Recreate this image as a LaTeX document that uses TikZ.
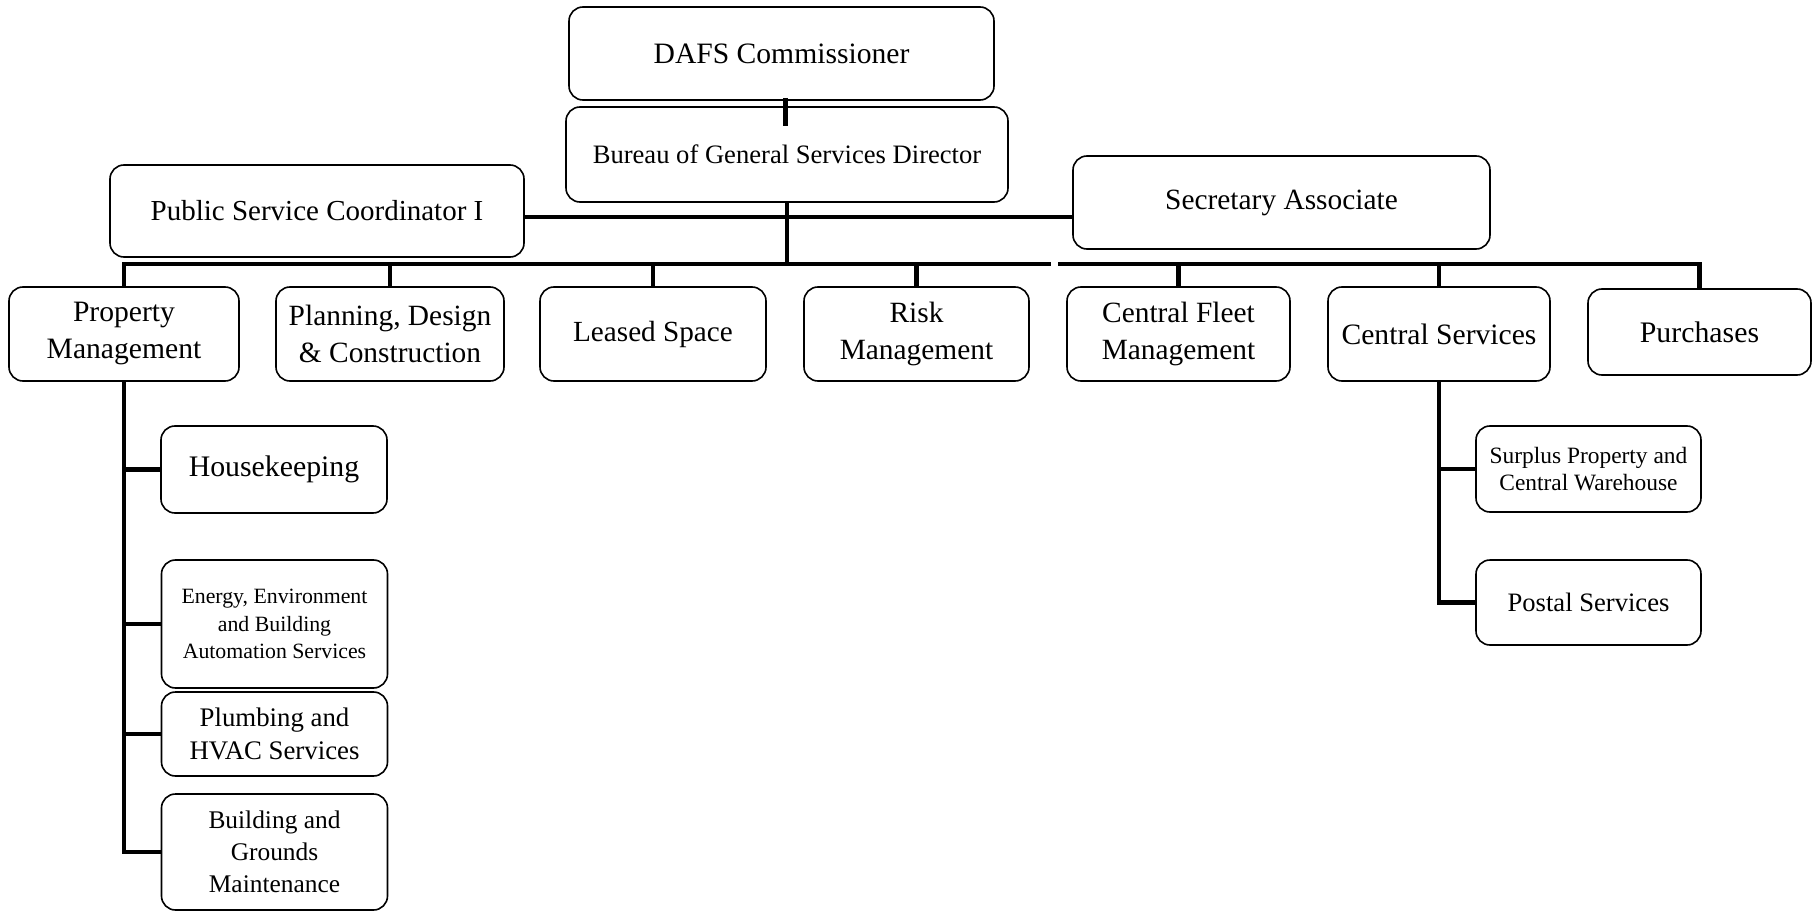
\documentclass[tikz,border=0pt]{standalone}
\usepackage{fontspec}
\setmainfont{Liberation Serif}
\newcommand{\fs}[2]{\fontsize{#1}{#2}\selectfont}
\begin{document}
\begin{tikzpicture}[x=0.5pt,y=-0.5pt,
  unit/.style={draw, line width=0.8pt, rounded corners=7pt, align=center,
    inner sep=0pt, fill=white},
  link/.style={line width=2.4pt},
]
\useasboundingbox (0,0) rectangle (1817,915);

% top of the bureau
\node[unit, minimum width=212.5pt, minimum height=46.5pt, font=\fs{14.8}{18}]
  (dafs) at (781.5,53.5) {DAFS Commissioner};
\node[unit, minimum width=221pt, minimum height=47.5pt, font=\fs{13.3}{16}]
  (bgs) at (787,154.5) {Bureau of General Services Director};
\node[unit, minimum width=207pt, minimum height=46pt, font=\fs{14.5}{18}]
  (psc) at (317,211) {Public Service Coordinator I};
\node[unit, minimum width=208.5pt, minimum height=46.5pt, font=\fs{14.7}{18}]
  (sa) at (1281.5,202.5) {Secretary Associate};

% divisions
\begin{scope}[every node/.style={unit, minimum height=47pt}]
\node[minimum width=115pt, font=\fs{14.8}{18.5}] (pm) at (124,334)
  {Property\\Management};
\node[minimum width=114pt, font=\fs{14.7}{18.5}] (pdc) at (390,334)
  {Planning, Design\\\& Construction};
\node[minimum width=113pt, font=\fs{14.6}{18.5}] (ls) at (653,334)
  {Leased Space};
\node[minimum width=112.5pt, font=\fs{14.7}{18.5}] (rm) at (916.5,334)
  {Risk\\Management};
\node[minimum width=111.5pt, font=\fs{14.7}{18.5}] (cfm) at (1178.5,334)
  {Central Fleet\\Management};
\node[minimum width=111pt, font=\fs{14.8}{18.5}] (cs) at (1439,334)
  {Central Services};
\node[minimum width=111.5pt, minimum height=43pt, font=\fs{14.9}{18.5}] (pur) at (1699.5,332)
  {Purchases};
\end{scope}

% property management sections
\begin{scope}[every node/.style={unit, minimum width=113pt}]
\node[minimum height=43.5pt, font=\fs{14.9}{18}] (hk) at (274,469.5)
  {Housekeeping};
\node[minimum height=64pt, font=\fs{10.9}{13.9}] (eeb) at (274.5,624)
  {Energy, Environment\\and Building\\Automation Services};
\node[minimum height=42pt, font=\fs{13.4}{16.2}] (phv) at (274.5,734)
  {Plumbing and\\HVAC Services};
\node[minimum height=58pt, font=\fs{12.7}{16}] (bgm) at (274.5,852)
  {Building and\\Grounds\\Maintenance};
\end{scope}

% central services sections
\begin{scope}[every node/.style={unit, minimum width=112.5pt}]
\node[minimum height=43pt, font=\fs{11.7}{13.4}] (spw) at (1588.5,469)
  {Surplus Property and\\Central Warehouse};
\node[minimum height=42.5pt, font=\fs{13.3}{16}] (post) at (1588.5,602.5)
  {Postal Services};
\end{scope}

% reporting lines
\coordinate (staff) at (0,217);
\coordinate (bus) at (0,264);
\coordinate (busgapL) at (1051,264);
\coordinate (busgapR) at (1058,264);

\draw[link] ([xshift=2pt,yshift=1.5pt]dafs.south)
  -- ([xshift=2pt,yshift=-10pt]dafs.south |- bgs.north);
\draw[link] (psc.east |- staff) -- (sa.west |- staff);
\draw[link] (bgs.south) -- (bgs.south |- bus);
\draw[link] (pm.north) -- (pm.north |- bus) -- (busgapL);
\draw[link] (busgapR) -- (pur.north |- bus) -- (pur.north);
\foreach \n in {pdc, ls, rm, cfm, cs}
  \draw[link] (\n.north) -- (\n.north |- bus);

\draw[link] (pm.south) -- (pm.south |- bgm.west) -- (bgm.west);
\foreach \n in {hk, eeb, phv}
  \draw[link] (pm.south |- \n.west) -- (\n.west);

\draw[link] (cs.south) -- (cs.south |- post.west) -- (post.west);
\draw[link] (cs.south |- spw.west) -- (spw.west);
\end{tikzpicture}
\end{document}
